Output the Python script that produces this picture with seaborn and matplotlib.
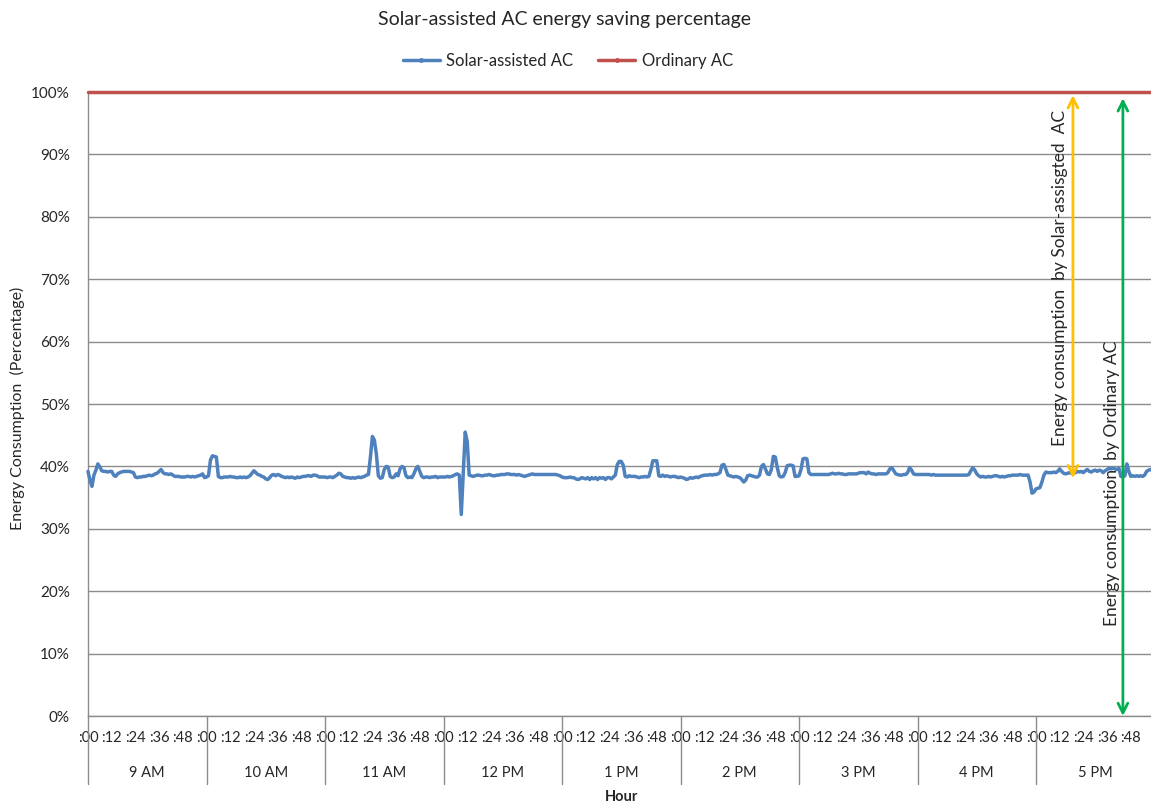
import numpy as np
import pandas as pd
import matplotlib
matplotlib.use("Agg")
import matplotlib.pyplot as plt
from matplotlib.lines import Line2D
from matplotlib.transforms import blended_transform_factory
import seaborn as sns

# ---------------- data ----------------
hours = ["9 AM", "10 AM", "11 AM", "12 PM", "1 PM", "2 PM", "3 PM", "4 PM", "5 PM"]
minute_labels = [":00", ":12", ":24", ":36", ":48"]
minute_ticks = [0, 12, 24, 36, 48]

h09 = [39.2, 37.8, 36.8, 38.6, 39.4, 40.4, 39.9, 39.3, 39.2, 39.2, 39.1, 39.2, 39.2, 38.6, 38.4,
       38.8, 39.0, 39.1, 39.2, 39.2, 39.2, 39.2, 39.1, 39.0, 38.3, 38.2, 38.3, 38.3, 38.4, 38.4,
       38.5, 38.6, 38.5, 38.6, 38.8, 38.9, 39.2, 39.5, 39.0, 38.8, 38.8, 38.7, 38.8, 38.6, 38.4,
       38.4, 38.4, 38.3, 38.3, 38.3, 38.4, 38.4, 38.3, 38.4, 38.3, 38.4, 38.5, 38.6, 38.8, 38.2]
h10 = [38.3, 38.5, 41.0, 41.7, 41.6, 41.5, 38.4, 38.2, 38.2, 38.3, 38.3, 38.3, 38.4, 38.3, 38.3,
       38.2, 38.2, 38.3, 38.2, 38.3, 38.2, 38.3, 38.5, 38.9, 39.3, 39.0, 38.7, 38.6, 38.4, 38.3,
       38.0, 37.9, 38.2, 38.6, 38.7, 38.5, 38.7, 38.6, 38.4, 38.3, 38.2, 38.3, 38.2, 38.3, 38.2,
       38.1, 38.3, 38.2, 38.3, 38.4, 38.4, 38.5, 38.5, 38.4, 38.6, 38.6, 38.5, 38.3, 38.3, 38.3]
h11 = [38.3, 38.2, 38.3, 38.3, 38.2, 38.4, 38.6, 38.9, 38.8, 38.4, 38.3, 38.2, 38.2, 38.1, 38.2,
       38.1, 38.2, 38.3, 38.2, 38.3, 38.4, 38.6, 38.7, 41.5, 44.8, 44.2, 42.0, 38.5, 38.1, 38.2,
       39.5, 40.0, 39.9, 38.4, 38.2, 38.3, 38.8, 38.5, 39.6, 40.0, 39.8, 38.5, 38.2, 38.3, 38.2,
       38.8, 39.6, 40.0, 39.2, 38.4, 38.2, 38.3, 38.3, 38.2, 38.3, 38.3, 38.4, 38.2, 38.3, 38.3]
h12 = [38.3, 38.3, 38.4, 38.3, 38.4, 38.5, 38.7, 38.8, 38.6, 32.3, 38.8, 45.5, 44.0, 38.6, 38.5,
       38.4, 38.5, 38.6, 38.6, 38.5, 38.5, 38.6, 38.6, 38.7, 38.6, 38.5, 38.5, 38.6, 38.6, 38.7,
       38.7, 38.7, 38.8, 38.8, 38.7, 38.7, 38.7, 38.6, 38.7, 38.6, 38.5, 38.4, 38.5, 38.6, 38.7,
       38.8, 38.7, 38.7, 38.7, 38.7, 38.7, 38.7, 38.7, 38.7, 38.7, 38.7, 38.7, 38.7, 38.6, 38.5]
h13 = [38.3, 38.2, 38.2, 38.2, 38.3, 38.2, 38.2, 38.0, 37.9, 38.0, 38.2, 38.1, 38.0, 38.2, 37.9,
       38.2, 38.0, 38.2, 37.9, 38.2, 38.1, 38.2, 37.9, 38.2, 38.2, 38.0, 38.3, 38.6, 40.3, 40.8,
       40.8, 40.2, 38.4, 38.3, 38.5, 38.4, 38.4, 38.4, 38.3, 38.2, 38.3, 38.3, 38.4, 38.3, 38.4,
       39.5, 40.9, 40.9, 40.9, 38.5, 38.4, 38.6, 38.4, 38.5, 38.4, 38.3, 38.4, 38.4, 38.3, 38.2]
h14 = [38.3, 38.2, 38.1, 37.9, 38.0, 38.2, 38.1, 38.2, 38.3, 38.2, 38.4, 38.5, 38.6, 38.6, 38.6,
       38.7, 38.6, 38.7, 38.7, 38.8, 39.0, 40.2, 40.3, 39.5, 38.6, 38.5, 38.4, 38.3, 38.4, 38.3,
       38.2, 37.9, 37.5, 37.8, 38.5, 38.6, 38.5, 38.4, 38.3, 38.3, 38.6, 40.0, 40.3, 39.6, 38.8,
       38.7, 39.5, 41.6, 41.5, 39.8, 38.5, 38.3, 38.4, 39.0, 40.1, 40.2, 40.2, 40.1, 38.4, 38.4]
h15 = [38.5, 39.5, 41.2, 41.3, 41.2, 39.0, 38.7, 38.7, 38.7, 38.7, 38.7, 38.7, 38.7, 38.7, 38.7,
       38.7, 38.8, 38.9, 38.8, 38.8, 38.9, 38.8, 38.8, 38.7, 38.7, 38.8, 38.8, 38.8, 38.8, 38.8,
       38.9, 39.0, 39.0, 39.0, 38.8, 39.1, 38.9, 38.8, 38.8, 38.7, 38.8, 38.8, 38.8, 38.8, 38.8,
       39.0, 39.6, 39.8, 39.3, 38.8, 38.7, 38.6, 38.6, 38.7, 38.7, 39.0, 39.8, 39.4, 38.8, 38.7]
h16 = [38.7, 38.7, 38.7, 38.7, 38.7, 38.7, 38.7, 38.6, 38.7, 38.6, 38.6, 38.6, 38.6, 38.6, 38.6,
       38.6, 38.6, 38.6, 38.6, 38.6, 38.6, 38.6, 38.6, 38.6, 38.6, 38.6, 38.7, 39.3, 39.8, 39.4,
       38.8, 38.5, 38.3, 38.4, 38.3, 38.3, 38.4, 38.3, 38.4, 38.5, 38.5, 38.4, 38.3, 38.4, 38.3,
       38.4, 38.5, 38.5, 38.6, 38.6, 38.6, 38.6, 38.7, 38.6, 38.6, 38.6, 38.6, 37.5, 35.7, 35.9]
h17 = [36.4, 36.5, 36.6, 37.5, 38.6, 39.1, 39.0, 39.0, 39.0, 39.1, 39.0, 39.2, 39.6, 39.2, 38.9,
       38.8, 38.9, 39.0, 38.9, 39.0, 39.0, 39.2, 39.1, 39.2, 39.0, 39.3, 39.5, 39.2, 39.1, 39.3,
       39.4, 39.2, 39.4, 39.3, 39.0, 39.3, 39.5, 39.7, 39.6, 39.7, 39.6, 39.5, 39.7, 38.4, 38.3,
       38.5, 40.4, 39.2, 38.4, 38.5, 38.4, 38.5, 38.4, 38.5, 38.4, 38.6, 39.2, 39.4, 39.5, 39.4]

solar_ac = h09 + h10 + h11 + h12 + h13 + h14 + h15 + h16 + h17
ordinary_level = 100.0
ordinary_ac = [ordinary_level] * len(solar_ac)

# annotation anchors (data units: minute index, percent)
solar_arrow = dict(x=498.7, lo=38.1, hi=99.5)
ordinary_arrow = dict(x=524.0, lo=0.0, hi=99.0)

# ---------------- style ----------------
sns.set_style("white")
plt.rcParams["font.family"] = ["Lato", "DejaVu Sans"]

W, H = 1151, 808
fig = plt.figure(figsize=(W / 100, H / 100), dpi=100)
left_px, right_px, top_px, bottom_px = 88, 1154.5, 92, 716
ax = fig.add_axes([left_px / W, 1 - bottom_px / H, (right_px - left_px) / W, (bottom_px - top_px) / H])

n = len(solar_ac)
df = pd.DataFrame({"minute": np.arange(n), "Solar-assisted AC": solar_ac, "Ordinary AC": ordinary_ac})
long = df.melt(id_vars="minute", var_name="series", value_name="pct")

blue = "#4F81BD"
red = "#C0504D"
grid = "#8C8C8C"

sns.lineplot(data=long, x="minute", y="pct", hue="series",
             palette={"Solar-assisted AC": blue, "Ordinary AC": red},
             linewidth=2.5, ax=ax, legend=False, estimator=None, zorder=3)
for ln in ax.lines:
    ln.set_clip_on(False)
    ln.set_solid_joinstyle("round")

ax.set_xlim(0, n)
ax.set_ylim(0, 100)

# y axis
yt = list(range(0, 101, 10))
ax.set_yticks(yt)
ax.set_yticklabels([f"{v}%" for v in yt], fontsize=11)
ax.yaxis.grid(True, color=grid, linewidth=1)
ax.set_axisbelow(True)
ax.tick_params(axis="y", length=5, width=1, color=grid, pad=8)

# x axis: minute labels
xt = [h * 60 + m for h in range(len(hours)) for m in minute_ticks]
ax.set_xticks(xt)
ax.set_xticklabels(minute_labels * len(hours), fontsize=10.5)
ax.tick_params(axis="x", length=0, pad=11)

for s in ["top", "right"]:
    ax.spines[s].set_visible(False)
for s in ["left", "bottom"]:
    ax.spines[s].set_color(grid)
    ax.spines[s].set_linewidth(1)

ax.set_xlabel("")
ax.set_ylabel("")

tr = blended_transform_factory(ax.transData, ax.transAxes)
ph = bottom_px - top_px
for i in range(len(hours)):
    ax.plot([i * 60, i * 60], [0, -(784 - bottom_px) / ph], transform=tr,
            color=grid, lw=1, clip_on=False)
    ax.text(i * 60 + 30, -(773 - bottom_px) / ph, hours[i], transform=tr,
            ha="center", va="center", fontsize=10.5)
ax.text(n / 2, -(797 - bottom_px) / ph, "Hour", transform=tr, ha="center", va="center",
        fontsize=10.5, fontweight="bold")

fig.text(17 / W, 1 - 408 / H, "Energy Consumption  (Percentage)", rotation=90,
         ha="center", va="center", fontsize=11.5)

# title + legend
fig.text(564 / W, 1 - 20 / H, "Solar-assisted AC energy saving percentage",
         ha="center", va="center", fontsize=14)
handles = [Line2D([], [], color=blue, lw=2.5, marker="o", markersize=2.5),
           Line2D([], [], color=red, lw=2.5, marker="o", markersize=2.5)]
fig.legend(handles, ["Solar-assisted AC", "Ordinary AC"], loc="center",
           bbox_to_anchor=(568 / W, 1 - 61 / H), ncol=2, frameon=False, fontsize=12,
           handlelength=2.2, handletextpad=0.4, columnspacing=1.5)

# arrows + annotations
ax.annotate("", xy=(solar_arrow["x"], solar_arrow["hi"]), xytext=(solar_arrow["x"], solar_arrow["lo"]),
            arrowprops=dict(arrowstyle="<->,head_length=0.7,head_width=0.35", color="#FFC000", lw=2,
                            shrinkA=0, shrinkB=0), zorder=5, annotation_clip=False)
ax.annotate("", xy=(ordinary_arrow["x"], ordinary_arrow["hi"]), xytext=(ordinary_arrow["x"], ordinary_arrow["lo"]),
            arrowprops=dict(arrowstyle="<->,head_length=0.7,head_width=0.35", color="#00B050", lw=2,
                            shrinkA=0, shrinkB=0), zorder=5, annotation_clip=False)
ax.text(492.2, 70.2, "Energy consumption  by Solar-assisgted  AC", rotation=90,
        ha="center", va="center", fontsize=12.5, zorder=6)
ax.text(518.5, 37.3, "Energy consumption  by Ordinary AC", rotation=90,
        ha="center", va="center", fontsize=12.5, zorder=6)

fig.savefig("out.png", dpi=100)
